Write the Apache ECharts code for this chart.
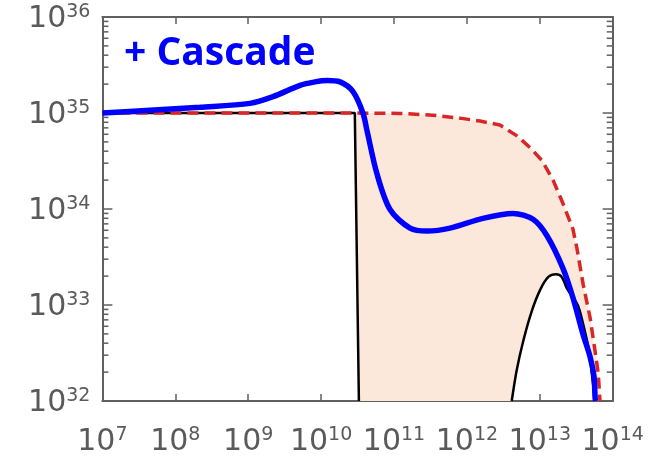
<!DOCTYPE html>
<html>
<head>
<meta charset="utf-8">
<script src="https://cdn.jsdelivr.net/npm/echarts@6/dist/echarts.min.js"></script>
<style>
html,body{margin:0;padding:0;background:#ffffff;}
#chart{width:650px;height:457px;}
</style>
</head>
<body>
<div id="chart"></div>
<script>
// ---- data ----
const titleText = '+ Cascade';
const xTicks = [1e7, 1e8, 1e9, 1e10, 1e11, 1e12, 1e13, 1e14];
const yTicks = [1e32, 1e33, 1e34, 1e35, 1e36];

// black: injected spectrum with sharp cut-off
const blackStep = [[1e7, 1e35], [2.9e10, 1e35], [3.3e10, 1e32]];
// black: high-energy bump
const blackBump = [
  [4.12e12, 1e32], [4.82e12, 2.09e32], [5.94e12, 4.24e32], [7.74e12, 8.59e32],
  [1.007e13, 1.43e33], [1.31e13, 1.96e33], [1.67e13, 2.09e33], [2.0e13, 1.96e33],
  [2.34e13, 1.50e33], [3.29e13, 1.01e33], [3.85e13, 6.75e32], [4.73e13, 3.33e32],
  [5.36e13, 1.53e32], [5.72e13, 1e32]
];
// red dashed envelope
const redDashed = [
  [1e7, 1e35], [2.9e10, 1e35], [1.21e11, 9.9e34], [3.43e11, 9.5e34], [8.04e11, 8.84e34],
  [1.51e12, 8.24e34], [2.84e12, 7.5e34], [4.87e12, 5.78e34], [7.34e12, 4.36e34],
  [1.07e13, 3.21e34], [1.52e13, 2.0e34], [2.08e13, 1.14e34], [2.85e13, 6.17e33],
  [3.24e13, 3.85e33], [3.95e13, 1.61e33], [4.89e13, 7.41e32], [5.72e13, 3.33e32],
  [6.34e13, 1.93e32], [6.69e13, 1e32]
];
// blue: with cascade
const blueCascade = [
  [1e7, 1e35], [4.5e7, 1.07e35], [2.18e8, 1.15e35], [1.06e9, 1.26e35], [2.19e9, 1.48e35],
  [5.14e9, 1.94e35], [8.26e9, 2.11e35], [1.21e10, 2.18e35], [1.82e10, 2.11e35],
  [2.74e10, 1.67e35], [3.76e10, 9.94e34], [4.27e10, 6.5e34], [5.85e10, 2.31e34],
  [8.82e10, 9.89e33], [1.66e11, 6.32e33], [2.84e11, 5.89e33], [5.87e11, 6.32e33],
  [1.66e12, 8.0e33], [4.29e12, 9.0e33], [8.07e12, 7.81e33], [1.26e13, 5.24e33],
  [2.08e13, 2.41e33], [2.85e13, 1.19e33], [3.91e13, 4.96e32], [4.89e13, 2.89e32],
  [5.54e13, 1.8e32], [5.72e13, 1.12e32], [5.8e13, 1e32]
];
const minorSteps = [2, 3, 4, 5, 6, 7, 8, 9];

// ---- derived: both axes are logarithmic (plotted in decades) ----
const lg = v => Math.log10(v);
const L = arr => arr.map(p => [lg(p[0]), lg(p[1])]);
const minorYL = [];
for (let n = 32; n < 36; n++) minorSteps.forEach(k => minorYL.push(n + lg(k)));
const cutX = blackStep[1][0];
const fillPoly = L(redDashed.filter(p => p[0] >= cutX)
  .concat(blackBump.slice().reverse())
  .concat([blackStep[2]]));
const xMinL = lg(xTicks[0]), xMaxL = lg(xTicks[xTicks.length - 1]);

const axisColor = '#606060';
const labelColor = '#5a5a5a';
const rich = {
  b: {fontFamily: 'DejaVu Sans', fontSize: 30, color: labelColor, lineHeight: 32},
  e: {fontFamily: 'DejaVu Sans', fontSize: 19, color: labelColor, verticalAlign: 'top', lineHeight: 12}
};
const powFmt = v => '{b|10}{e|' + Math.round(v) + '}';

function xAx(pos, labels) {
  return {
    type: 'value', min: xMinL, max: xMaxL, interval: 1, position: pos,
    axisLine: {show: true, onZero: false, lineStyle: {color: axisColor, width: 2}},
    axisTick: {show: true, inside: true, length: 7, lineStyle: {color: axisColor, width: 1.5}},
    axisLabel: labels ? {show: true, formatter: powFmt, rich: rich, margin: 25} : {show: false},
    splitLine: {show: false}, minorTick: {show: false}
  };
}
function yAx(pos, labels) {
  return {
    type: 'value', min: lg(yTicks[0]), max: lg(yTicks[yTicks.length - 1]), interval: 1, position: pos,
    axisLine: {show: true, onZero: false, lineStyle: {color: axisColor, width: 2}},
    axisTick: {show: true, inside: true, length: 10, lineStyle: {color: axisColor, width: 1.5}},
    axisLabel: labels ? {show: true, formatter: powFmt, rich: rich, margin: 12, padding: [4, 0, 0, 0]} : {show: false},
    splitLine: {show: false}, minorTick: {show: false}
  };
}

const chart = echarts.init(document.getElementById('chart'), null, {renderer: 'canvas'});
chart.setOption({
  animation: false,
  backgroundColor: '#ffffff',
  grid: {left: 102.4, right: 37.3, top: 17, bottom: 49, containLabel: false},
  xAxis: [xAx('bottom', true), xAx('top', false)],
  yAxis: [yAx('left', true), yAx('right', false)],
  graphic: [{
    type: 'text', left: 124, top: 34, z: 100,
    style: {text: titleText, font: 'bold 39px "Open Sans"', fill: '#0000ff'}
  }],
  series: [
    {
      type: 'custom', name: 'fill', clip: true, z: 1,
      data: [[10, 34]],
      renderItem: function (params, api) {
        return {type: 'polygon', shape: {points: fillPoly.map(p => api.coord(p))}, style: {fill: '#fce8da'}};
      }
    },
    {
      // logarithmic minor ticks (2..9 x 10^n) on the left and right frame
      type: 'custom', name: 'minor', clip: false, z: 1, silent: true,
      data: [[10, 34]],
      renderItem: function (params, api) {
        const kids = [];
        minorYL.forEach(y => {
          const pl = api.coord([xMinL, y]);
          const pr = api.coord([xMaxL, y]);
          kids.push({type: 'rect', shape: {x: pl[0], y: pl[1] - 0.75, width: 6, height: 1.5}, style: {fill: axisColor}});
          kids.push({type: 'rect', shape: {x: pr[0] - 6, y: pr[1] - 0.75, width: 6, height: 1.5}, style: {fill: axisColor}});
        });
        return {type: 'group', children: kids};
      }
    },
    {type: 'line', name: 'step', data: L(blackStep), symbol: 'none', z: 2,
      lineStyle: {color: '#000000', width: 2.5}},
    {type: 'line', name: 'bump', data: L(blackBump), symbol: 'none', smooth: 0.3, z: 2,
      lineStyle: {color: '#000000', width: 2.5}},
    {type: 'line', name: 'red', data: L(redDashed), symbol: 'none', z: 3,
      lineStyle: {color: '#d92626', width: 3.5, type: [11, 6]}},
    {type: 'line', name: 'blue', data: L(blueCascade), symbol: 'none', smooth: 0.3, z: 4,
      lineStyle: {color: '#0000ff', width: 5.5}}
  ]
});
</script>
</body>
</html>
